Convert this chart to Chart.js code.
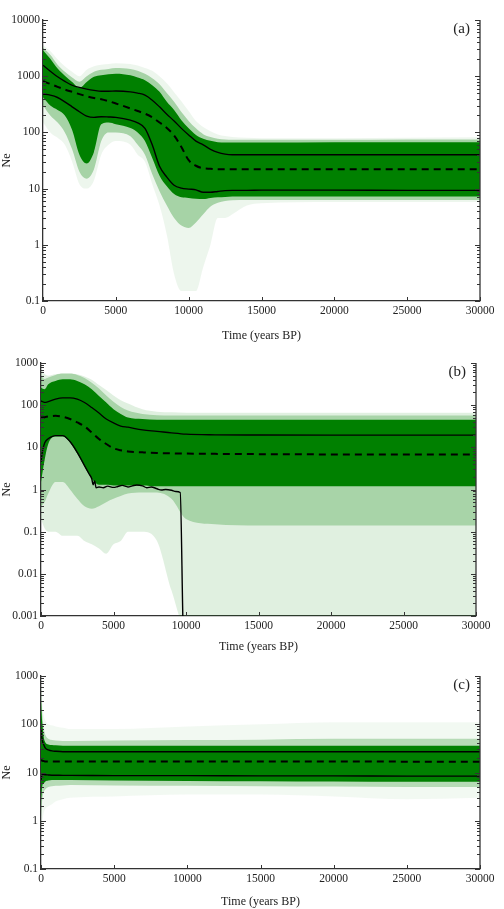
<!DOCTYPE html>
<html><head><meta charset="utf-8">
<script src="https://cdn.jsdelivr.net/npm/chart.js@4.4.1/dist/chart.umd.min.js"></script>
<style>
html,body{margin:0;padding:0;background:#fff;width:504px;height:909px;overflow:hidden;}
canvas{position:absolute;left:0;}
</style></head><body>
<canvas id="ca" width="504" height="345" style="top:0px"></canvas>
<canvas id="cb" width="504" height="310" style="top:345px"></canvas>
<canvas id="cc" width="504" height="254" style="top:655px"></canvas>
<script>
// ---------- shared ----------
const xTicks = [0, 5000, 10000, 15000, 20000, 25000, 30000];
const xTitle = 'Time (years BP)';
const yTitle = 'Ne';

// ---------- panel (a) ----------
const yTicksA = [0.1, 1, 10, 100, 1000, 10000];
const yLabelsA = ['0.1', '1', '10', '100', '1000', '10000'];
const timeA = [0,500,1000,1500,2000,2500,3000,3500,4000,4500,5000,6000,6500,7000,7500,8000,8500,9000,9500,10000,10500,11000,11500,12000,12500,13000,14000,15000,20000,25000,30000];
const upperA  = [1570,1230,975,810,690,630,590,560,540,540,545,527,500,460,375,285,210,160,118,90,70,60,50,44,41,40,40,40,40,40,40];
const medianA = [815,730,647,580,527,480,440,410,390,360,327,267,240,215,185,150,120,88,55,32,25.5,23,22.5,22,22,22,22,22,22,22,22];
const lowerA  = [480,460,418,350,285,233,195,185,190,188,185,165,148,118,60,25,16,11.5,10.2,9.8,9.5,8.6,8.6,8.9,9.2,9.3,9.3,9.4,9.4,9.3,9.3];
const denseHiA = [2900,2050,1370,1020,790,620,790,975,1040,1080,1110,1040,950,850,690,527,350,250,165,118,90,77,71,67,66,66,66,66,67,67,67];
const denseLoA = [420,300,250,200,110,40,28,45,140,150,140,120,100,70,35,17,11,8,7,6.8,6.6,6.5,6.8,7,7.1,7.2,7.2,7.2,7.2,7.2,7.2];
const midHiA = [3200,2400,1600,1200,950,800,1000,1200,1300,1350,1400,1350,1250,1100,920,720,500,350,230,160,118,93,83,77,75,74,74,74,74,75,75];
const midLoA = [300,200,150,100,50,20,15,22,70,100,100,85,60,40,18,9,5,3,2.2,2,2.5,3.5,4.8,5.6,6,6.2,6.3,6.3,6.3,6.3,6.3];
const faintHiA = [3600,2800,2000,1500,1200,1000,1300,1500,1600,1650,1700,1650,1550,1400,1250,1000,750,520,360,240,160,125,105,92,86,83,80,79,79,80,82];
const faintLoA = [150,100,80,60,30,12,10,14,40,60,70,60,40,30,12,5,1.5,0.3,0.15,0.15,0.15,0.4,1,3,3,3.5,5,5.5,5.8,5.8,5.8];

// ---------- panel (b) ----------
const yTicksB = [0.001, 0.01, 0.1, 1, 10, 100, 1000];
const yLabelsB = ['0.001', '0.01', '0.1', '1', '10', '100', '1000'];
const timeB = [0,250,500,1000,1500,2000,2500,3000,3500,4000,4500,5000,5500,6000,7000,8000,9000,10000,12000,15000,20000,25000,30000];
const upperB  = [126,116,121,139,149,149,139,116,88,65,47,38,32,30,26,24,22,20.5,19.8,19.6,19.5,19.5,19.5];
const medianB = [51,52,54,56,53,47,39,31.5,22.5,15.8,12,9.5,8.5,8,7.6,7.3,7.2,7.1,7,6.9,6.8,6.8,6.8];
const denseHiB = [260,240,315,375,410,410,375,315,240,165,115,80,62,51,47,45,45,45,45,45,45,45,45];
const denseLoB = [1.5,5,12,18,18,13,7,3.5,1.8,1.3,1.3,1.25,1.25,1.25,1.25,1.2,1.2,1.2,1.2,1.2,1.2,1.2,1.2];
const midHiB = [500,420,450,520,560,560,520,440,340,250,170,120,90,75,62,58,57,57,57,57,57,57,57];
const midLoB = [0.4,0.5,0.8,1.5,1.5,1,0.6,0.4,0.35,0.4,0.5,0.6,0.7,0.8,0.85,0.85,0.6,0.2,0.15,0.14,0.14,0.14,0.14];
const faintHiB = [700,550,500,540,560,560,540,480,400,300,230,170,130,110,80,70,68,66,66,66,66,66,66];
const faintLoB = [0.2,0.12,0.1,0.1,0.08,0.08,0.08,0.06,0.05,0.04,0.03,0.05,0.06,0.1,0.1,0.06,0.004,0.0005,0.0005,0.0005,0.0005,0.0005,0.0005];
const lowTimeB = [0,100,250,500,750,1000,1500,2000,2500,3000,3300,3500,3600,3700,3800,4000,4300,4600,5000,5300,5600,6000,6300,6600,7000,7300,7600,8000,8300,8600,9000,9300,9600,9780];
const lowerB   = [4.5,8,12.7,16,18,19,19,13.7,7.6,3.7,2.4,1.8,1.3,1.6,1.1,1.15,1.1,1.2,1.12,1.18,1.25,1.15,1.22,1.28,1.22,1.1,1.15,1.04,0.97,1.0,0.96,0.9,0.85,0.001];

// ---------- panel (c) ----------
const yTicksC = [0.1, 1, 10, 100, 1000];
const yLabelsC = ['0.1', '1', '10', '100', '1000'];
const timeC = [0,50,100,200,300,500,750,1000,1500,2000,5000,10000,15000,20000,25000,30000];
const upperC  = [80,56,45,37,32,29.5,28,27.5,27,27,27,27,27,27,27,27];
const medianC = [18,17.8,17.5,17.2,17,17,17,17,17,17,17,17,17,16.9,16.8,16.8];
const lowerC  = [7,8.5,9.2,9.1,9,8.9,8.8,8.8,8.7,8.7,8.6,8.6,8.5,8.5,8.4,8.4];
const denseHiC = [300,150,98,51,42,38,37,36.5,36,36,36,36,36,36,36,36];
const denseLoC = [2.5,4,5.5,6,6.5,6.8,7,7,7,7,6.8,6.7,6.6,6.5,6.4,6.4];
const midHiC = [600,250,150,80,60,50,47,46,45,45,46,47,48,50,50,50];
const midLoC = [1.2,2,3,4,4.5,5,5.2,5.3,5.4,5.5,5.4,5.3,5.2,5.1,5,5];
const faintHiC = [1000,500,250,150,120,100,95,90,85,80,80,90,100,110,110,110];
const faintLoC = [0.5,0.8,1,1.5,1.8,2,2.2,2.5,2.8,3,3.2,3.5,3.5,3.2,2.8,3];

// ---------- helpers ----------
const FONT = '"Liberation Serif", "Times New Roman", serif';
const GREEN = 'rgb(0,128,0)';
const pts = (t, v) => t.map((x, i) => ({x, y: v[i]}));

function band(t, hi, lo, color, order) {
  return [
    {data: pts(t, hi), borderWidth: 0, pointRadius: 0, fill: '+1', backgroundColor: color,
     cubicInterpolationMode: 'monotone', order},
    {data: pts(t, lo), borderWidth: 0, pointRadius: 0, fill: false,
     cubicInterpolationMode: 'monotone', order}
  ];
}
function line(t, v, width, dash) {
  return {data: pts(t, v), borderColor: '#000', borderWidth: width, borderDash: dash || [],
          pointRadius: 0, fill: false, cubicInterpolationMode: 'monotone', order: 0};
}

const framePlugin = {
  id: 'frame',
  afterDraw(chart, args, opts) {
    const {ctx, chartArea: a} = chart;
    const x = chart.scales.x, y = chart.scales.y;
    ctx.save();
    ctx.strokeStyle = '#333';
    ctx.lineWidth = 1.3;
    ctx.beginPath(); ctx.moveTo(a.right, a.top); ctx.lineTo(a.right, a.bottom); ctx.stroke();
    ctx.lineWidth = 1;
    const lo = Math.round(Math.log10(y.min)), hi = Math.round(Math.log10(y.max));
    for (let e = lo; e <= hi; e++) {
      for (let k = 1; k <= 9; k++) {
        const v = k * Math.pow(10, e);
        if (v > y.max * 1.0001) break;
        const py = Math.round(y.getPixelForValue(v)) + 0.5;
        const len = k === 1 ? 5 : 3;
        ctx.beginPath();
        ctx.moveTo(a.left, py); ctx.lineTo(a.left + len, py);
        ctx.moveTo(a.right, py); ctx.lineTo(a.right - len, py);
        ctx.stroke();
      }
    }
    x.ticks.forEach(t => {
      const px = Math.round(x.getPixelForValue(t.value)) + 0.5;
      ctx.beginPath(); ctx.moveTo(px, a.bottom); ctx.lineTo(px, a.bottom - 4); ctx.stroke();
    });
    ctx.fillStyle = '#222';
    ctx.font = '15px ' + FONT;
    ctx.textAlign = 'right';
    ctx.textBaseline = 'top';
    ctx.fillText(opts.label, a.right - 10, a.top + 2);
    ctx.restore();
  }
};

function makeChart(id, datasets, cfg) {
  return new Chart(document.getElementById(id), {
    type: 'line',
    data: {datasets},
    plugins: [framePlugin],
    options: {
      responsive: false, animation: false, events: [],
      layout: {padding: {top: cfg.top, right: cfg.right, left: 0, bottom: 0}},
      plugins: {legend: {display: false}, tooltip: {enabled: false}, frame: {label: cfg.label}},
      scales: {
        x: {
          type: 'linear', min: 0, max: 30000,
          afterBuildTicks: s => { s.ticks = xTicks.map(v => ({value: v})); },
          afterFit: s => { s.height = cfg.xh; },
          grid: {display: false, drawTicks: false},
          border: {display: true, color: '#333', width: 1.3},
          ticks: {padding: 3, color: '#222', font: {family: FONT, size: 11.5}, maxRotation: 0, autoSkip: false,
                  callback: v => String(v)},
          title: {display: true, text: xTitle, color: '#222', font: {family: FONT, size: 12},
                  padding: {top: 0, bottom: cfg.tpb}}
        },
        y: {
          type: 'logarithmic', min: cfg.yTicks[0], max: cfg.yTicks[cfg.yTicks.length - 1],
          afterBuildTicks: s => { s.ticks = cfg.yTicks.map(v => ({value: v})); },
          afterFit: s => { s.width = cfg.yw; },
          grid: {display: false, drawTicks: false},
          border: {display: true, color: '#333', width: 1.3},
          ticks: {padding: 3, color: '#222', font: {family: FONT, size: 11.5}, autoSkip: false,
                  callback: (v, i) => cfg.yLabels[i]},
          title: {display: true, text: yTitle, color: '#222', font: {family: FONT, size: 12},
                  padding: {top: 0, bottom: 0}}
        }
      }
    }
  });
}

makeChart('ca', [
  line(timeA, upperA, 1.3), line(timeA, medianA, 2, [7, 5]), line(timeA, lowerA, 1.4),
  ...band(timeA, denseHiA, denseLoA, GREEN, 1),
  ...band(timeA, midHiA, midLoA, 'rgba(0,128,0,0.3)', 2),
  ...band(timeA, faintHiA, faintLoA, 'rgba(0,128,0,0.07)', 3)
], {top: 20, right: 24, xh: 44, yw: 43, tpb: 2, yTicks: yTicksA, yLabels: yLabelsA, label: '(a)'});

makeChart('cb', [
  line(timeB, upperB, 1.3), line(timeB, medianB, 2, [7, 5]), line(lowTimeB, lowerB, 1.4),
  ...band(timeB, denseHiB, denseLoB, GREEN, 1),
  ...band(timeB, midHiB, midLoB, 'rgba(0,128,0,0.25)', 2),
  ...band(timeB, faintHiB, faintLoB, 'rgba(0,128,0,0.12)', 3)
], {top: 18, right: 28, xh: 39, yw: 41, tpb: 1, yTicks: yTicksB, yLabels: yLabelsB, label: '(b)'});

makeChart('cc', [
  line(timeC, upperC, 1.4), line(timeC, medianC, 2, [7, 5]), line(timeC, lowerC, 1.4),
  ...band(timeC, denseHiC, denseLoC, GREEN, 1),
  ...band(timeC, midHiC, midLoC, 'rgba(0,128,0,0.25)', 2),
  ...band(timeC, faintHiC, faintLoC, 'rgba(0,128,0,0.05)', 3)
], {top: 21, right: 24, xh: 40, yw: 41, tpb: 0, yTicks: yTicksC, yLabels: yLabelsC, label: '(c)'});
</script>
</body></html>
